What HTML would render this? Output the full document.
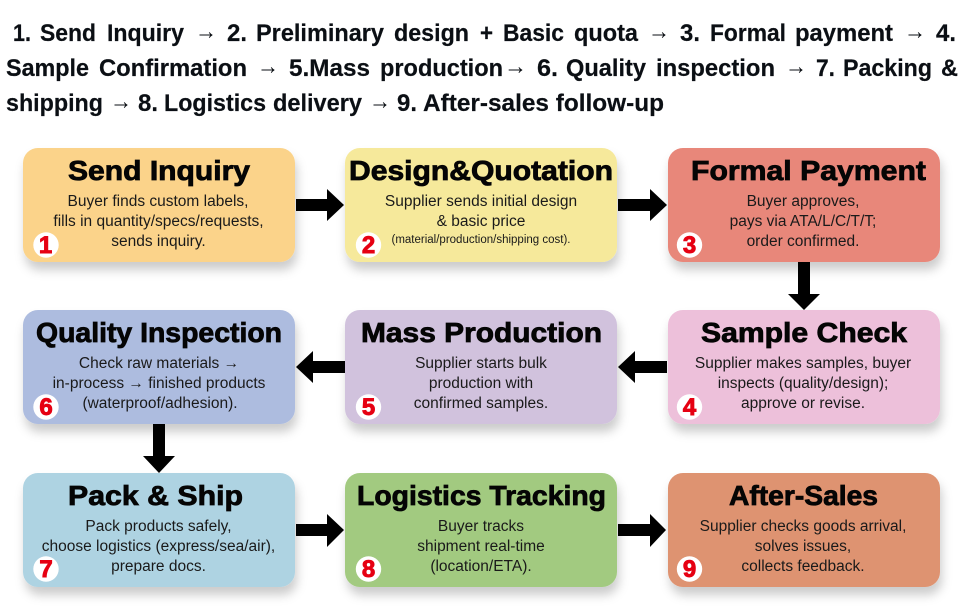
<!DOCTYPE html>
<html><head><meta charset="utf-8">
<style>
html,body{margin:0;padding:0;background:#fff;width:960px;height:615px;overflow:hidden}
svg{display:block;font-family:"Liberation Sans",sans-serif;filter:blur(.35px)}
.h text{font-size:24px;font-weight:bold;fill:#0b0f14;stroke:#0b0f14;stroke-width:.2}
.h text.a{font-weight:normal;stroke-width:0}
.t{font-size:28px;font-weight:bold;fill:#050505;stroke:#050505;stroke-width:.8;text-anchor:middle}
.b{font-size:15.5px;fill:#1a1a1a;text-anchor:middle}
.n{font-size:24px;font-weight:bold;fill:#e60012;stroke:#e60012;stroke-width:.9;text-anchor:middle}
</style></head><body>
<svg width="960" height="615" viewBox="0 0 960 615" xmlns="http://www.w3.org/2000/svg">
<defs><filter id="s" x="-10%" y="-10%" width="120%" height="135%"><feDropShadow dx="2" dy="8" stdDeviation="5" flood-color="#000" flood-opacity=".2"/></filter></defs>
<g class="h">
<text x="13" y="41" textLength="18" lengthAdjust="spacingAndGlyphs">1.</text>
<text x="40" y="41" textLength="56" lengthAdjust="spacingAndGlyphs">Send</text>
<text x="107" y="41" textLength="77" lengthAdjust="spacingAndGlyphs">Inquiry</text>
<text class="a" x="195" y="39" textLength="22" lengthAdjust="spacingAndGlyphs">→</text>
<text x="227" y="41" textLength="20" lengthAdjust="spacingAndGlyphs">2.</text>
<text x="256" y="41" textLength="128" lengthAdjust="spacingAndGlyphs">Preliminary</text>
<text x="394" y="41" textLength="75" lengthAdjust="spacingAndGlyphs">design</text>
<text x="480" y="41" textLength="13" lengthAdjust="spacingAndGlyphs">+</text>
<text x="503" y="41" textLength="61" lengthAdjust="spacingAndGlyphs">Basic</text>
<text x="574" y="41" textLength="64" lengthAdjust="spacingAndGlyphs">quota</text>
<text class="a" x="648" y="39" textLength="22" lengthAdjust="spacingAndGlyphs">→</text>
<text x="680" y="41" textLength="20" lengthAdjust="spacingAndGlyphs">3.</text>
<text x="710" y="41" textLength="76" lengthAdjust="spacingAndGlyphs">Formal</text>
<text x="795" y="41" textLength="98" lengthAdjust="spacingAndGlyphs">payment</text>
<text class="a" x="904" y="39" textLength="22" lengthAdjust="spacingAndGlyphs">→</text>
<text x="936" y="41" textLength="20" lengthAdjust="spacingAndGlyphs">4.</text>
<text x="6" y="76" textLength="83" lengthAdjust="spacingAndGlyphs">Sample</text>
<text x="99" y="76" textLength="148" lengthAdjust="spacingAndGlyphs">Confirmation</text>
<text class="a" x="257" y="74" textLength="22" lengthAdjust="spacingAndGlyphs">→</text>
<text x="289" y="76" textLength="81" lengthAdjust="spacingAndGlyphs">5.Mass</text>
<text x="380" y="76" textLength="123" lengthAdjust="spacingAndGlyphs">production</text>
<text class="a" x="504" y="74" textLength="23" lengthAdjust="spacingAndGlyphs">→</text>
<text x="537" y="76" textLength="21" lengthAdjust="spacingAndGlyphs">6.</text>
<text x="566" y="76" textLength="80" lengthAdjust="spacingAndGlyphs">Quality</text>
<text x="656" y="76" textLength="119" lengthAdjust="spacingAndGlyphs">inspection</text>
<text class="a" x="785" y="74" textLength="22" lengthAdjust="spacingAndGlyphs">→</text>
<text x="816" y="76" textLength="19" lengthAdjust="spacingAndGlyphs">7.</text>
<text x="843" y="76" textLength="89" lengthAdjust="spacingAndGlyphs">Packing</text>
<text x="941" y="76" textLength="17" lengthAdjust="spacingAndGlyphs">&amp;</text>
<text x="6" y="111" textLength="97" lengthAdjust="spacingAndGlyphs">shipping</text>
<text class="a" x="110" y="109" textLength="22" lengthAdjust="spacingAndGlyphs">→</text>
<text x="138" y="111" textLength="20" lengthAdjust="spacingAndGlyphs">8.</text>
<text x="164" y="111" textLength="102" lengthAdjust="spacingAndGlyphs">Logistics</text>
<text x="273" y="111" textLength="89" lengthAdjust="spacingAndGlyphs">delivery</text>
<text class="a" x="369" y="109" textLength="22" lengthAdjust="spacingAndGlyphs">→</text>
<text x="397" y="111" textLength="20" lengthAdjust="spacingAndGlyphs">9.</text>
<text x="423" y="111" textLength="241" lengthAdjust="spacingAndGlyphs">After-sales follow-up</text>
</g>

<g filter="url(#s)">
<rect x="23" y="148" width="272" height="114" rx="15" fill="#fbd38a"/>
<rect x="345" y="148" width="272" height="114" rx="15" fill="#f6e99b"/>
<rect x="668" y="148" width="272" height="114" rx="15" fill="#e8877a"/>
<rect x="23" y="310" width="272" height="114" rx="15" fill="#adbcdf"/>
<rect x="345" y="310" width="272" height="114" rx="15" fill="#d1c2dd"/>
<rect x="668" y="310" width="272" height="114" rx="15" fill="#edc0da"/>
<rect x="23" y="473" width="272" height="114" rx="15" fill="#aed3e2"/>
<rect x="345" y="473" width="272" height="114" rx="15" fill="#a2ca80"/>
<rect x="668" y="473" width="272" height="114" rx="15" fill="#de9371"/>
</g>

<g fill="#000">
<polygon points="296,199 327,199 327,189 344,205 327,221 327,211 296,211"/>
<polygon points="618,199 650,199 650,189 667,205 650,221 650,211 618,211"/>
<polygon points="296,524 327,524 327,514 344,530 327,547 327,536 296,536"/>
<polygon points="618,524 650,524 650,514 666,530 650,547 650,536 618,536"/>
<polygon points="345,361 313,361 313,351 296,367 313,383 313,373 345,373"/>
<polygon points="667,361 635,361 635,351 618,367 635,383 635,373 667,373"/>
<polygon points="153,424 165,424 165,456 175,456 159,473 143,456 153,456"/>
<polygon points="798,262 810,262 810,294 820,294 804,310 788,294 798,294"/>
</g>

<text class="t" x="159" y="180" textLength="182" lengthAdjust="spacingAndGlyphs">Send Inquiry</text>
<text class="t" x="481" y="180" textLength="264" lengthAdjust="spacingAndGlyphs">Design&amp;Quotation</text>
<text class="t" x="808.500" y="180" textLength="235" lengthAdjust="spacingAndGlyphs">Formal Payment</text>
<text class="t" x="159" y="342" textLength="246" lengthAdjust="spacingAndGlyphs">Quality Inspection</text>
<text class="t" x="481.500" y="342" textLength="241" lengthAdjust="spacingAndGlyphs">Mass Production</text>
<text class="t" x="804" y="342" textLength="206" lengthAdjust="spacingAndGlyphs">Sample Check</text>
<text class="t" x="155.500" y="505" textLength="175" lengthAdjust="spacingAndGlyphs">Pack &amp; Ship</text>
<text class="t" x="481.500" y="505" textLength="249" lengthAdjust="spacingAndGlyphs">Logistics Tracking</text>
<text class="t" x="803.500" y="505" textLength="149" lengthAdjust="spacingAndGlyphs">After-Sales</text>

<text class="b" x="158" y="206">Buyer finds custom labels,</text>
<text class="b" x="158.500" y="226">fills in quantity/specs/requests,</text>
<text class="b" x="158.500" y="246">sends inquiry.</text>
<text class="b" x="481" y="206">Supplier sends initial design</text>
<text class="b" x="481" y="226">&amp; basic price</text>
<text class="b" x="481" y="243" style="font-size:11.500px">(material/production/shipping cost).</text>
<text class="b" x="803" y="206">Buyer approves,</text>
<text class="b" x="803" y="226">pays via ATA/L/C/T/T;</text>
<text class="b" x="803" y="246">order confirmed.</text>

<text class="b" x="159" y="368">Check raw materials →</text>
<text class="b" x="159" y="388">in-process → finished products</text>
<text class="b" x="160" y="408">(waterproof/adhesion).</text>
<text class="b" x="481" y="368">Supplier starts bulk</text>
<text class="b" x="481" y="388">production with</text>
<text class="b" x="481" y="408">confirmed samples.</text>
<text class="b" x="803" y="368">Supplier makes samples, buyer</text>
<text class="b" x="803" y="388">inspects (quality/design);</text>
<text class="b" x="803" y="408">approve or revise.</text>

<text class="b" x="158.500" y="531">Pack products safely,</text>
<text class="b" x="158.500" y="551">choose logistics (express/sea/air),</text>
<text class="b" x="158.500" y="571">prepare docs.</text>
<text class="b" x="481" y="531">Buyer tracks</text>
<text class="b" x="481" y="551">shipment real-time</text>
<text class="b" x="481" y="571">(location/ETA).</text>
<text class="b" x="803" y="531">Supplier checks goods arrival,</text>
<text class="b" x="803" y="551">solves issues,</text>
<text class="b" x="803" y="571">collects feedback.</text>

<g fill="#fff">
<circle cx="46" cy="245" r="12.700"/><circle cx="368.500" cy="245" r="12.700"/><circle cx="689.500" cy="245" r="12.700"/>
<circle cx="46" cy="407" r="12.700"/><circle cx="368.500" cy="407" r="12.700"/><circle cx="689.500" cy="407" r="12.700"/>
<circle cx="46" cy="569" r="12.700"/><circle cx="368.500" cy="569" r="12.700"/><circle cx="689.500" cy="569" r="12.700"/>
</g>
<text class="n" x="45.500" y="253">1</text>
<text class="n" x="368.500" y="253">2</text>
<text class="n" x="689.500" y="253">3</text>
<text class="n" x="46" y="415">6</text>
<text class="n" x="368.500" y="415">5</text>
<text class="n" x="689.500" y="415">4</text>
<text class="n" x="46" y="577">7</text>
<text class="n" x="368.500" y="577">8</text>
<text class="n" x="689.500" y="577">9</text>
</svg>
</body></html>
